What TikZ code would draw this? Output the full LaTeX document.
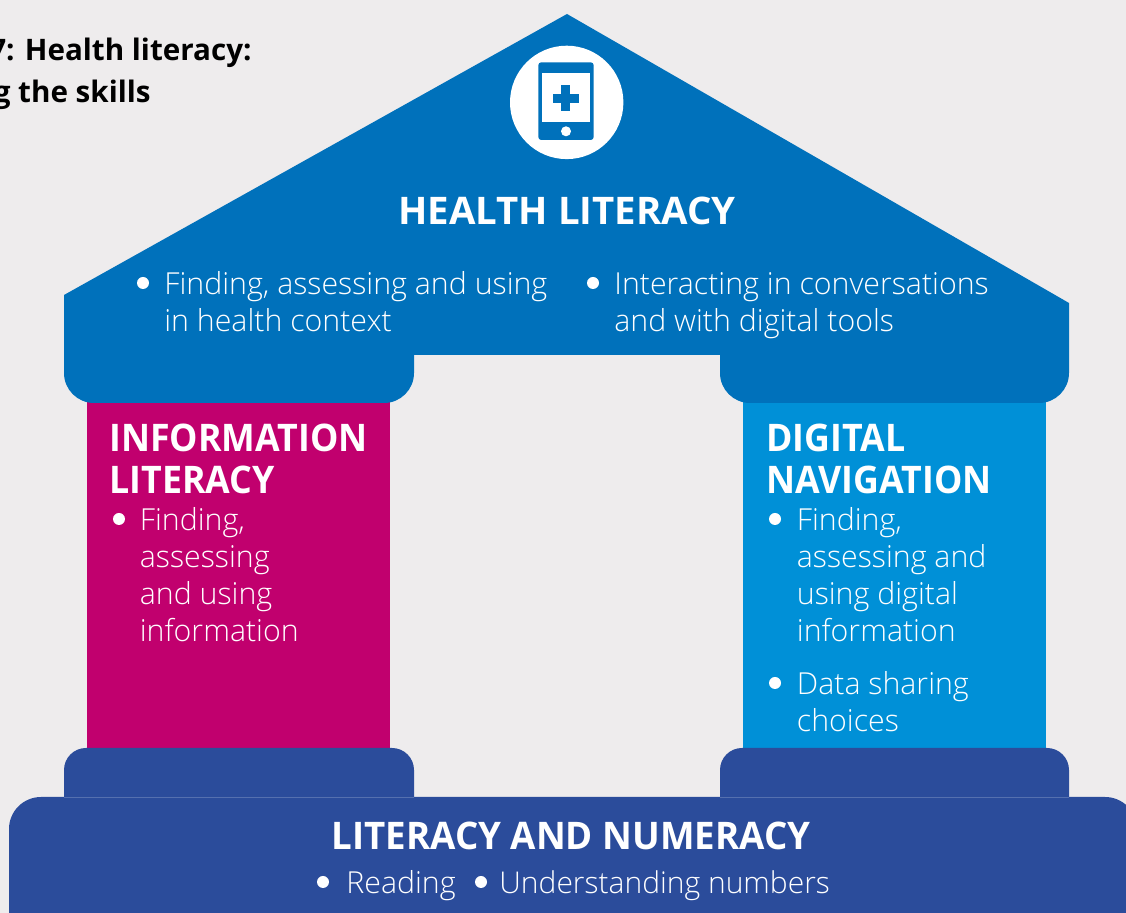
\documentclass[tikz,border=0pt]{standalone}
\usepackage{fontspec}
\setmainfont{Open Sans}
\newfontfamily\lightf{Open Sans Light}
\newfontfamily\headf[FakeStretch=0.94]{Open Sans}
\newfontfamily\headg[FakeStretch=0.965]{Open Sans}
\newfontfamily\headh[FakeStretch=1.01]{Open Sans}
\definecolor{bgc}{HTML}{EEECED}
\definecolor{roofc}{HTML}{0071BB}
\definecolor{magc}{HTML}{C1006E}
\definecolor{cyanc}{HTML}{0090D7}
\definecolor{navyc}{HTML}{2B4C9B}
\tikzset{
  body/.style={text=white,inner sep=0pt,anchor=base west,font=\lightf\fontsize{15.15}{18}\selectfont},
  head/.style={text=white,inner sep=0pt,anchor=base west,font=\headf\bfseries\fontsize{19}{22}\selectfont},
  titlet/.style={text=black,inner sep=0pt,anchor=base east,font=\bfseries\fontsize{14.8}{16}\selectfont},
  bul/.style={circle,fill=white,inner sep=0pt,minimum size=6pt}
}
\begin{document}
\begin{tikzpicture}[x=0.5pt,y=-0.5pt]
\useasboundingbox (0,0) rectangle (1126,913);
\clip (0,0) rectangle (1126,913);
\fill[bgc] (0,0) rectangle (1126,913);
\fill[magc] (87,400) rectangle (390,750);
\fill[cyanc] (743,400) rectangle (1046,750);
\fill[roofc] (567,14) -- (1069,303) -- (1069,360) [rounded corners=15pt] -- (1069,403) -- (720,403) [sharp corners] -- (720,355) -- (414,355) [rounded corners=15pt] -- (414,403) -- (64,403) [sharp corners] -- (64,295) -- cycle;
\fill[navyc] (64,800) [rounded corners=11pt] -- (64,748) -- (414,748) [sharp corners] -- (414,800) -- cycle;
\fill[navyc] (720,800) [rounded corners=11pt] -- (720,748) -- (1069,748) [sharp corners] -- (1069,800) -- cycle;
\fill[navyc] (9,913) [rounded corners=16pt] -- (9,797) -- (1137,797) [sharp corners] -- (1137,913) -- cycle;
\draw[navyc!80!white,line width=0.4pt] (64,797) -- (414,797) (720,797) -- (1069,797);
% icon
\fill[white] (566.7,102.4) circle[radius=56.7];
\fill[roofc,rounded corners=1.5pt] (538.3,62.3) rectangle (593.7,140);
\fill[white] (541.7,73.3) rectangle (590,122.3);
\fill[white] (566,131.3) circle[radius=5];
\fill[roofc] (561,85) rectangle (570,111);
\fill[roofc] (553,94) rectangle (579,102.7);
% texts
\node[titlet] (t1) at (252,61) {7: Health literacy:};
\node[titlet] (t2) at (151,103) {g the skills};
\node[head,anchor=base,font=\headh\bfseries\fontsize{19}{22}\selectfont] (h1) at (567,225) {HEALTH LITERACY};
\node[bul] (b1) at (143,283) {};
\node[body] (x1) at (164,295) {Finding, assessing and using};
\node[body] (x2) at (164,332) {in health context};
\node[bul] (b2) at (593,283) {};
\node[body] (x3) at (614,295) {Interacting in conversations};
\node[body] (x4) at (614,332) {and with digital tools};
\node[head] (h2) at (109,452) {INFORMATION};
\node[head] (h3) at (109,494) {LITERACY};
\node[bul] (b3) at (119,519) {};
\node[body] (x5) at (139.5,531) {Finding,};
\node[body] (x6) at (139.5,568) {assessing};
\node[body] (x7) at (139.5,605) {and using};
\node[body] (x8) at (139.5,642) {information};
\node[head] (h4) at (766,452) {DIGITAL};
\node[head] (h5) at (766,494) {NAVIGATION};
\node[bul] (b4) at (775,519) {};
\node[body] (x9) at (796.5,531) {Finding,};
\node[body] (x10) at (796.5,568) {assessing and};
\node[body] (x11) at (796.5,605) {using digital};
\node[body] (x12) at (796.5,642) {information};
\node[bul] (b5) at (775,683) {};
\node[body] (x13) at (796.5,695) {Data sharing};
\node[body] (x14) at (796.5,732) {choices};
\node[head,anchor=base,font=\headg\bfseries\fontsize{19}{22}\selectfont] (h6) at (571,850) {LITERACY AND NUMERACY};
\node[bul] (b6) at (323,882) {};
\node[body] (x15) at (346,894) {Reading};
\node[bul] (b7) at (481,882) {};
\node[body,font=\lightf\fontsize{15}{18}\selectfont] (x16) at (499,894) {Understanding numbers};
\end{tikzpicture}
\end{document}
